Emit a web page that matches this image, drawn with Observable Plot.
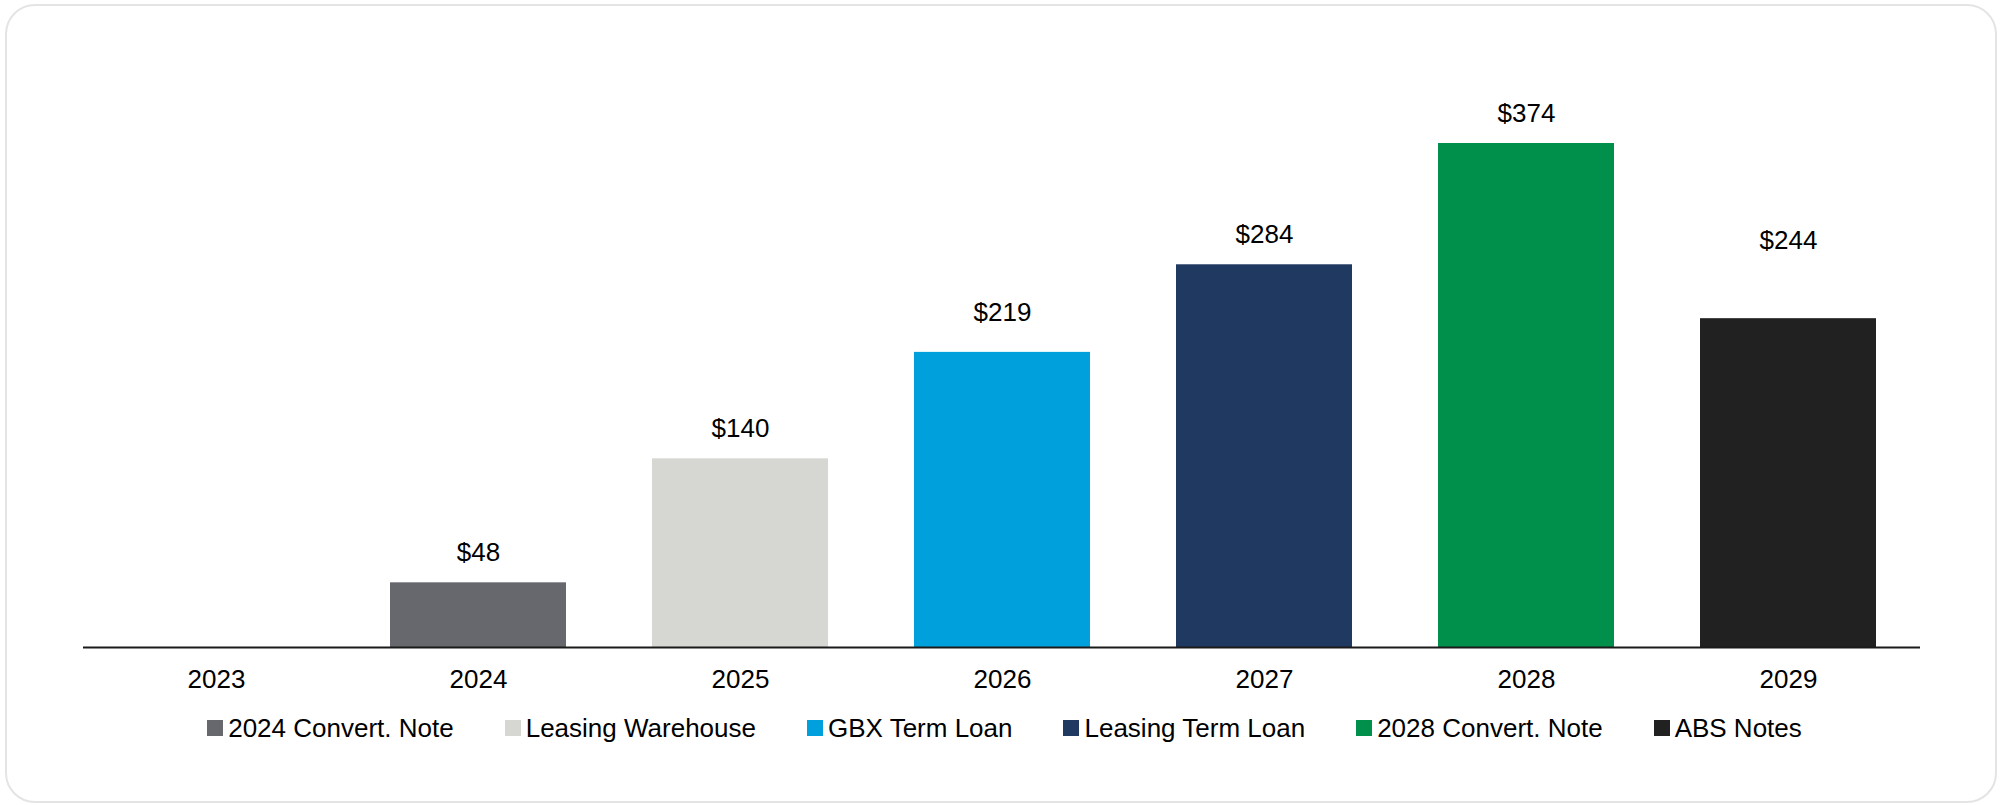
<!DOCTYPE html>
<html>
<head>
<meta charset="utf-8">
<script src="https://cdn.jsdelivr.net/npm/d3@7"></script>
<script src="https://cdn.jsdelivr.net/npm/@observablehq/plot@0.6"></script>
<style>
  html, body { margin: 0; padding: 0; background: #ffffff; }
  #wrap { position: relative; width: 2001px; height: 805px; font-family: "Liberation Sans", Arial, sans-serif; }
  #frame { position: absolute; left: 5px; top: 4px; width: 1992px; height: 799px; box-sizing: border-box;
           border: 2px solid #e4e4e4; border-radius: 30px; }
  #chart { position: absolute; left: 0; top: 0; }
  #legend { position: absolute; left: 4px; top: 713px; width: 2001px; display: flex; justify-content: center;
            align-items: center; font-size: 26px; color: #000; line-height: 30px; }
  .item { display: inline-flex; align-items: center; margin: 0 25.5px; white-space: nowrap; }
  .sw { width: 16px; height: 16px; margin-right: 5px; display: inline-block; }
</style>
</head>
<body>
<div id="wrap">
  <div id="frame"></div>
  <div id="chart"></div>
  <div id="legend"></div>
</div>
<script>
// ---- data ----
const years = ["2023", "2024", "2025", "2026", "2027", "2028", "2029"];
const values = [0, 48, 140, 219, 284, 374, 244];
const series = [null, "2024 Convert. Note", "Leasing Warehouse", "GBX Term Loan", "Leasing Term Loan", "2028 Convert. Note", "ABS Notes"];
const legendNames = ["2024 Convert. Note", "Leasing Warehouse", "GBX Term Loan", "Leasing Term Loan", "2028 Convert. Note", "ABS Notes"];
const colors = ["#67686d", "#d6d7d3", "#00a0dc", "#1f3960", "#00904b", "#212121"];

const rows = years.map((y, i) => ({year: y, value: values[i], series: series[i]}));
const barRows = rows.filter(d => d.value > 0);

// label lift above bar top (styling, mirrors the reference placement)
const lift = d => d.year === "2029" ? 70 : d.year === "2026" ? 31 : 22;
const liftGroups = Array.from(new Set(barRows.map(lift)));

const fmt = v => "$" + d3.format(",")(v);

const chart = Plot.plot({
  width: 2001,
  height: 700,
  marginLeft: 83,
  marginRight: 81,
  marginTop: 143,
  marginBottom: 53,
  style: {fontFamily: "'Liberation Sans', Arial, sans-serif", fontSize: "26px", color: "#000", background: "transparent", overflow: "visible"},
  x: {domain: years, paddingInner: 0.33, paddingOuter: 0.165, tickSize: 0, tickPadding: 22, label: null},
  y: {domain: [0, d3.max(values)], axis: null},
  color: {domain: legendNames, range: colors},
  marks: [
    Plot.barY(barRows, {x: "year", y: "value", fill: "series"}),
    ...liftGroups.map(g => Plot.text(barRows.filter(d => lift(d) === g), {
      x: "year", y: "value", text: d => fmt(d.value), lineAnchor: "bottom", dy: -g,
      fontSize: 26, fill: "#000"
    })),
    Plot.ruleY([0], {stroke: "#1a1a1a", strokeWidth: 2})
  ]
});
document.getElementById("chart").appendChild(chart);

// legend from the same color scale
const cs = chart.scale("color");
const leg = document.getElementById("legend");
cs.domain.forEach((name, i) => {
  const it = document.createElement("span");
  it.className = "item";
  const sw = document.createElement("span");
  sw.className = "sw";
  sw.style.background = cs.range[i];
  it.appendChild(sw);
  it.appendChild(document.createTextNode(name));
  leg.appendChild(it);
});
</script>
</body>
</html>
